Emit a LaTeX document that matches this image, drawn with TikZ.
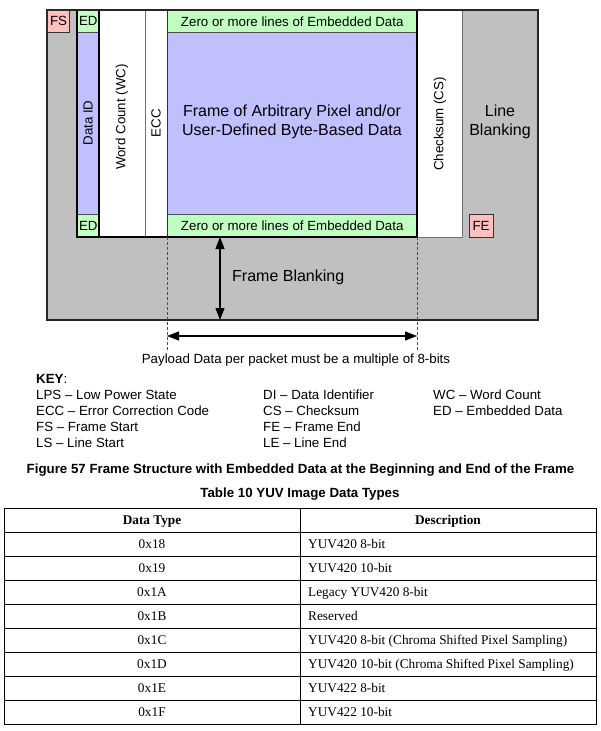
\documentclass[tikz,border=0pt]{standalone}
\usepackage{fontspec}
\setmainfont{Liberation Sans}
\newfontfamily\serifT{Liberation Serif}
\usetikzlibrary{arrows.meta}
\definecolor{gfill}{HTML}{C0C0C0}
\definecolor{bfill}{HTML}{C0C0FF}
\definecolor{grfill}{HTML}{C0FFC0}
\definecolor{pfill}{HTML}{FFC0C0}
\definecolor{sepgray}{HTML}{707070}
\newcommand\fA{\fontsize{13.3}{16}\selectfont}
\newcommand\fB{\fontsize{16}{19.5}\selectfont}
\tikzset{
  region/.style={rectangle, anchor=north west, inner sep=0pt, outer sep=0pt},
  tagbox/.style={rectangle, draw=black!80, line width=0.8pt, inner sep=0pt, minimum width=22pt, minimum height=22pt, font=\fA, fill=pfill},
  edbox/.style={rectangle, anchor=north west, draw=black!70, line width=0.5pt, inner sep=0pt, fill=grfill, font=\fA},
  lbl/.style={font=\fA, inner sep=0pt},
  big/.style={font=\fB, inner sep=0pt, align=center},
  keytxt/.style={font=\fA, anchor=base west, inner sep=0pt},
  tcell/.style={font=\serifT\fA, inner sep=0pt},
  captxt/.style={font=\fA\bfseries, inner sep=0pt, anchor=base},
  dim/.style={{Triangle[length=12pt,width=9pt]}-{Triangle[length=12pt,width=9pt]}, line width=1.2pt},
  guide/.style={dashed, dash pattern=on 3pt off 2pt, line width=0.5pt, black!70}
}
\begin{document}
\begin{tikzpicture}[x=1pt,y=-1pt]
\useasboundingbox (0,0) rectangle (601,731);
% blanking background
\node[region, fill=gfill, draw=black!85, line width=1.2pt, minimum width=491pt, minimum height=310pt] (blank) at (47,10) {};
% white columns
\node[region, fill=white, minimum width=385pt, minimum height=227pt] (cols) at (77,10) {};
% data ID and payload
\node[region, fill=bfill, draw=black!70, line width=0.5pt, minimum width=22pt, minimum height=182pt] (did) at (77,32) {};
\node[region, fill=bfill, draw=black!70, line width=0.5pt, minimum width=250pt, minimum height=182pt] (pay) at (167,32) {};
% ED boxes
\node[edbox, minimum width=22pt, minimum height=22pt] (edt) at (77,10) {ED};
\node[edbox, minimum width=22pt, minimum height=23pt] (edb) at (77,214) {ED};
\node[edbox, minimum width=250pt, minimum height=22pt] (zt) at (167,10) {Zero or more lines of Embedded Data};
\node[edbox, minimum width=250pt, minimum height=23pt] (zb) at (167,214) {Zero or more lines of Embedded Data};
% checksum column
\node[region, fill=white, draw=sepgray, line width=0.8pt, minimum width=45pt, minimum height=227pt] (cs) at (417,10) {};
% separators
\draw[sepgray, line width=0.9pt] (145,10) -- (145,237);
\draw[black!80, line width=0.8pt] (167,10) -- (167,237);
\draw[black, line width=1.3pt] (99,10) -- (99,237);
% thick frame
\draw[black, line width=2pt] (77,10) rectangle (417,237);
\draw[black!85, line width=1.2pt] (47,10) -- (538,10);
% FS / FE
\node[tagbox] (fs) at (58.5,21) {FS};
\node[tagbox, minimum width=24pt, minimum height=23pt] (fe) at (481,225.5) {FE};
% texts
\node[lbl, rotate=90] (tdid) at (88,123) {Data ID};
\node[lbl, rotate=90] (twc) at (122,117) {Word Count (WC)};
\node[lbl, rotate=90] (tecc) at (156,123) {ECC};
\node[lbl, rotate=90] (tcs) at (440,124) {Checksum (CS)};
\node[big] (tpay) at (292,122) {Frame of Arbitrary Pixel and/or\\User-Defined Byte-Based Data};
\node[big] (tlb) at (500,122) {Line\\Blanking};
\node[big, anchor=west] (tfb) at (232,277) {Frame Blanking};
% dimension arrows
\coordinate (vt) at (220,237);
\coordinate (vb) at (220,320);
\draw[dim] (vt) -- (vb);
\coordinate (gl1) at (167,237);
\coordinate (gl2) at (167,351);
\coordinate (gr1) at (417,237);
\coordinate (gr2) at (417,351);
\draw[guide] (gl1) -- (gl2);
\draw[guide] (gr1) -- (gr2);
\coordinate (hl) at (167,336);
\coordinate (hr) at (417,336);
\draw[dim] (hl) -- (hr);
\node[lbl] (tpl) at (296,360) {Payload Data per packet must be a multiple of 8-bits};
% key
\node[keytxt] (key) at (36,383) {\textbf{KEY}:};
\node[keytxt] (k1) at (36,399) {LPS – Low Power State};
\node[keytxt] (k2) at (36,415) {ECC – Error Correction Code};
\node[keytxt] (k3) at (36,431.5) {FS – Frame Start};
\node[keytxt] (k4) at (36,447) {LS – Line Start};
\node[keytxt] (k5) at (263,399) {DI – Data Identifier};
\node[keytxt] (k6) at (263,415) {CS – Checksum};
\node[keytxt] (k7) at (263,431.5) {FE – Frame End};
\node[keytxt] (k8) at (263,447) {LE – Line End};
\node[keytxt] (k9) at (433,399) {WC – Word Count};
\node[keytxt] (k10) at (433,415) {ED – Embedded Data};
% captions
\node[captxt] (cap) at (300.5,473.5) {Figure 57 Frame Structure with Embedded Data at the Beginning and End of the Frame};
\node[captxt] (ttl) at (300,497) {Table 10 YUV Image Data Types};
% table
\draw[black, line width=0.8pt] (4,508) rectangle (596,724);
\draw[black, line width=0.8pt] (300,508) -- (300,724);
\foreach \k in {0,...,7} { \draw[black, line width=0.8pt] (4,{532+24*\k}) -- (596,{532+24*\k}); }
\node[tcell, anchor=base, font=\serifT\fA\bfseries] (h1) at (152,524.5) {Data Type};
\node[tcell, anchor=base, font=\serifT\fA\bfseries] (h2) at (448,524.5) {Description};
\foreach \c/\d [count=\i from 0] in {0x18/YUV420 8-bit, 0x19/YUV420 10-bit, 0x1A/Legacy YUV420 8-bit, 0x1B/Reserved, 0x1C/YUV420 8-bit (Chroma Shifted Pixel Sampling), 0x1D/YUV420 10-bit (Chroma Shifted Pixel Sampling), 0x1E/YUV422 8-bit, 0x1F/YUV422 10-bit} {
  \node[tcell, anchor=base] (c\i) at (152,{548.5+24*\i}) {\c};
  \node[tcell, anchor=base west] (d\i) at (308,{548.5+24*\i}) {\d};
}
\end{tikzpicture}
\end{document}
